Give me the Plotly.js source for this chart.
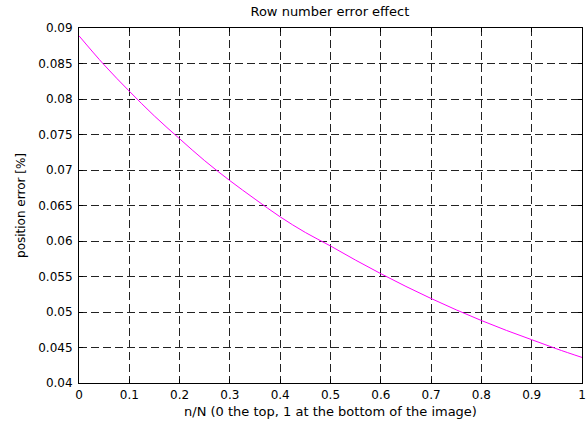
<!DOCTYPE html>
<html><head><meta charset="utf-8">
<script src="https://cdn.plot.ly/plotly-3.0.1.min.js"></script>
<style>html,body{margin:0;padding:0;background:#fff}#chart{width:587px;height:423px}</style>
</head><body><div id="chart"></div>
<script>
const xValues = [0, 0.05, 0.1, 0.15, 0.2, 0.25, 0.3, 0.35, 0.4, 0.45, 0.5, 0.55, 0.6, 0.65, 0.7, 0.75, 0.8, 0.85, 0.9, 0.95, 1.0];
const errValues = [0.0889, 0.0848, 0.0811, 0.0776, 0.0744, 0.0713, 0.0685, 0.0659, 0.0634, 0.0612, 0.0593, 0.0573, 0.0554, 0.0536, 0.0519, 0.0503, 0.0488, 0.0474, 0.0461, 0.0448, 0.0436];
const xTicks = [0, 0.1, 0.2, 0.3, 0.4, 0.5, 0.6, 0.7, 0.8, 0.9, 1];
const xTickText = ['0', '0.1', '0.2', '0.3', '0.4', '0.5', '0.6', '0.7', '0.8', '0.9', '1'];
const yTicks = [0.04, 0.045, 0.05, 0.055, 0.06, 0.065, 0.07, 0.075, 0.08, 0.085, 0.09];
const yTickText = ['0.04', '0.045', '0.05', '0.055', '0.06', '0.065', '0.07', '0.075', '0.08', '0.085', '0.09'];

const font = {family: 'DejaVu Sans, sans-serif', size: 12, color: '#000'};
const titleFont = {family: 'DejaVu Sans, sans-serif', size: 13, color: '#000'};
const axisCommon = {
  showline: true, linecolor: '#000', linewidth: 1, mirror: 'ticks',
  ticks: 'inside', ticklen: 4, tickcolor: '#000', tickwidth: 1,
  showgrid: true, gridcolor: '#222', griddash: '8px,4px', gridwidth: 1,
  zeroline: false, tickfont: font
};
Plotly.newPlot('chart', [{
  x: xValues, y: errValues, type: 'scatter', mode: 'lines',
  line: {color: '#ff00ff', width: 1, shape: 'spline'}, hoverinfo: 'none'
}], {
  width: 587, height: 423,
  margin: {l: 79, r: 5, t: 28, b: 40},
  paper_bgcolor: '#fff', plot_bgcolor: '#fff',
  showlegend: false,
  font: font,
  title: {text: 'Row number error effect', font: titleFont, x: 0.562, xanchor: 'center', y: 0.972, yanchor: 'middle'},
  xaxis: Object.assign({}, axisCommon, {
    range: [0, 1], tickvals: xTicks, ticktext: xTickText, ticklabelstandoff: 1,
    title: {text: 'n/N (0 the top, 1 at the bottom of the image)', font: titleFont, standoff: 5}
  }),
  yaxis: Object.assign({}, axisCommon, {
    range: [0.04, 0.09], tickvals: yTicks, ticktext: yTickText, ticklabelstandoff: 3,
    title: {text: 'position error [%]', font: font, standoff: 10}
  })
}, {staticPlot: true});
</script></body></html>
